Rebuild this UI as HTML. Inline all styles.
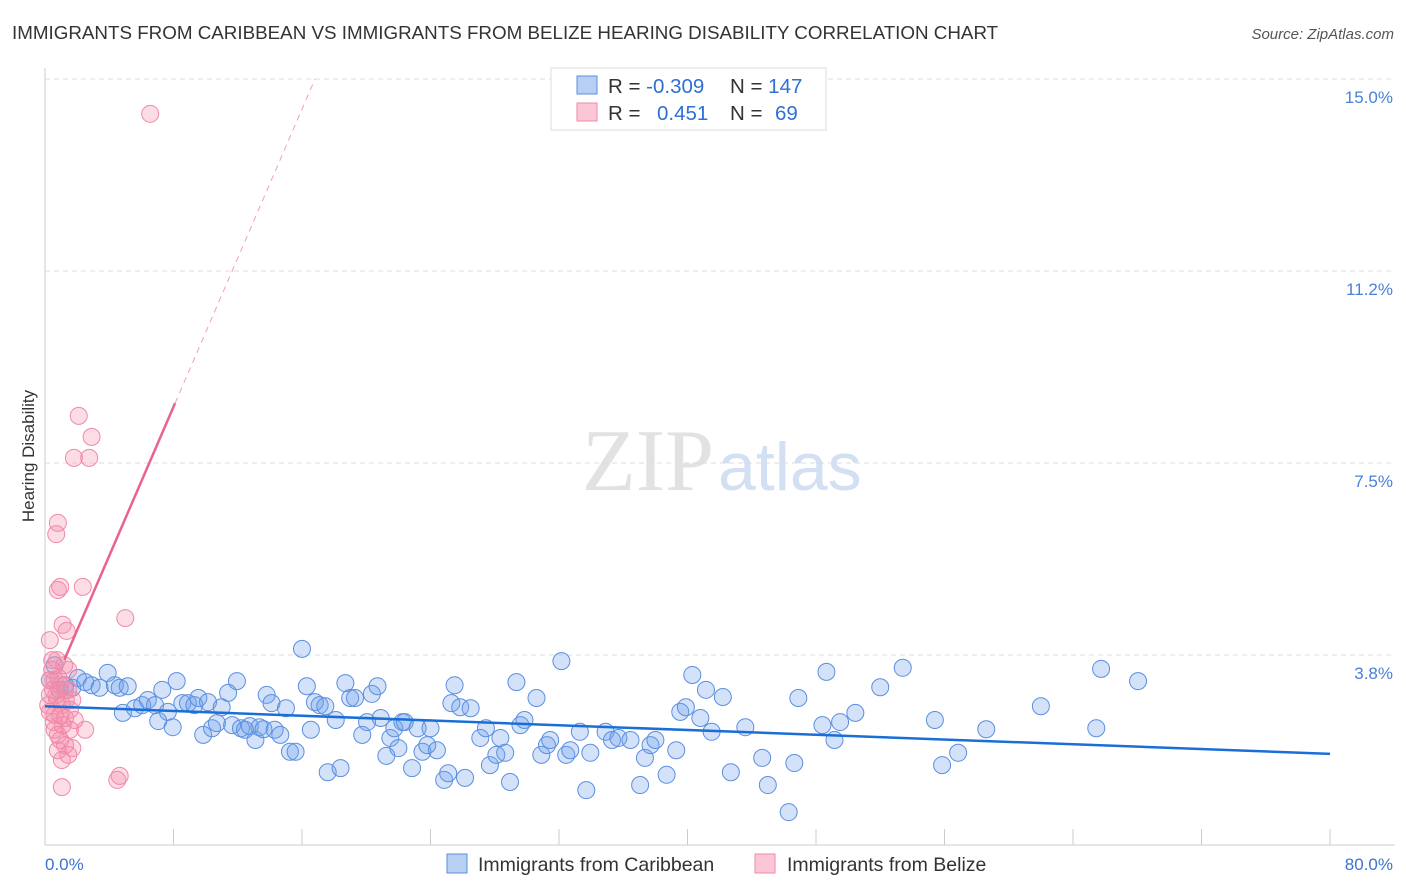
<!DOCTYPE html>
<html><head><meta charset="utf-8"><style>
body{margin:0;background:#fff;font-family:"Liberation Sans",sans-serif;}
svg{display:block}
</style></head><body>
<svg width="1406" height="892" xmlns="http://www.w3.org/2000/svg">
<text x="12" y="39" font-size="18.8" fill="#333">IMMIGRANTS FROM CARIBBEAN VS IMMIGRANTS FROM BELIZE HEARING DISABILITY CORRELATION CHART</text>
<text x="1394" y="39" font-size="15" fill="#555" text-anchor="end" font-style="italic">Source: ZipAtlas.com</text>
<text x="714" y="490" font-size="88" fill="#e2e2e2" text-anchor="end" font-family="Liberation Serif,serif">ZIP</text>
<text x="718" y="490" font-size="68" fill="#d3e0f3">atlas</text>
<g id="grid"></g>
<g id="axes"></g>
<g id="pts"></g>
<g id="trend"></g>
<text transform="translate(34,456) rotate(-90)" font-size="17" fill="#333" text-anchor="middle">Hearing Disability</text>
<text x="45" y="870" font-size="17" fill="#3a74d0">0.0%</text>
<text x="1393" y="870" font-size="17" fill="#3a74d0" text-anchor="end">80.0%</text>
<g>
<rect x="551" y="68" width="275" height="62" fill="#fff" stroke="#ddd"/>
<rect x="577" y="76" width="20" height="18" fill="#b6cff3" stroke="#5b8fe0"/>
<rect x="577" y="103" width="20" height="18" fill="#fbc7d6" stroke="#f08aa8"/>
<text x="608" y="93" font-size="20.5" fill="#333">R = <tspan fill="#2f6fd4">-0.309</tspan></text>
<text x="730" y="93" font-size="20.5" fill="#333">N = <tspan fill="#2f6fd4">147</tspan></text>
<text x="608" y="120" font-size="20.5" fill="#333">R = <tspan fill="#2f6fd4" x="657">0.451</tspan></text>
<text x="730" y="120" font-size="20.5" fill="#333">N = <tspan fill="#2f6fd4" x="775">69</tspan></text>
</g>
<g>
<rect x="447" y="854" width="20" height="19" fill="#b6cff3" stroke="#5b8fe0"/>
<text x="478" y="871" font-size="19.5" fill="#333">Immigrants from Caribbean</text>
<rect x="755" y="854" width="20" height="19" fill="#fbc7d6" stroke="#f08aa8"/>
<text x="787" y="871" font-size="19.5" fill="#333">Immigrants from Belize</text>
</g>
</svg>
<script>
const yTicks=[15,11.25,7.5,3.75];
const yTickLabels=["15.0%","11.2%","7.5%","3.8%"];
const xTicks=[0,8,16,24,32,40,48,56,64,72,80];
const blueX=[0.3,0.6,0.9,1.25,1.7,2.05,2.5,2.9,3.4,3.9,4.35,4.65,4.85,5.15,5.6,6.05,6.4,6.85,7.05,7.3,7.65,7.95,8.2,8.55,8.9,9.3,9.55,9.85,10.15,10.4,10.7,11.0,11.4,11.65,11.95,12.2,12.45,12.75,13.1,13.35,13.6,13.8,14.1,14.3,14.65,15.0,15.25,15.6,16.0,16.3,16.55,16.8,17.1,17.45,17.6,18.1,18.4,18.7,19.0,19.3,19.75,20.05,20.35,20.7,20.9,21.25,21.5,21.75,22.0,22.25,22.4,22.85,23.2,23.5,23.8,24.0,24.4,24.85,25.1,25.3,25.5,25.85,26.15,26.5,27.1,27.45,27.7,28.1,28.35,28.65,28.95,29.35,29.6,29.85,30.6,30.9,31.25,31.45,32.15,32.45,32.7,33.3,33.7,33.95,34.9,35.3,35.7,36.45,37.05,37.35,37.7,38.0,38.7,39.3,39.55,39.9,40.3,40.8,41.15,41.5,42.2,42.7,43.6,44.65,45.0,46.3,46.65,46.9,48.4,48.65,49.15,49.5,50.45,52.0,53.4,55.4,55.85,56.85,58.6,62.0,65.45,65.75,68.05];
const blueY=[3.26,3.55,3.07,3.16,3.11,3.30,3.22,3.16,3.11,3.40,3.16,3.11,2.62,3.14,2.71,2.77,2.87,2.77,2.46,3.07,2.64,2.34,3.24,2.81,2.81,2.77,2.91,2.19,2.83,2.32,2.42,2.73,3.01,2.38,3.24,2.32,2.29,2.36,2.09,2.34,2.30,2.97,2.81,2.29,2.19,2.71,1.86,1.86,3.87,3.14,2.29,2.83,2.77,2.75,1.46,2.48,1.54,3.20,2.91,2.91,2.19,2.44,2.99,3.14,2.52,1.78,2.13,2.32,1.93,2.44,2.44,1.54,2.32,1.86,1.99,2.32,1.89,1.31,1.44,2.81,3.16,2.73,1.35,2.71,2.13,2.32,1.60,1.80,2.13,1.84,1.27,3.22,2.38,2.48,2.91,1.80,1.99,2.09,3.63,1.80,1.89,2.25,1.11,1.84,2.25,2.09,2.13,2.09,1.21,1.74,1.99,2.09,1.41,1.89,2.64,2.73,3.36,2.52,3.07,2.25,2.93,1.46,2.34,1.74,1.21,0.68,1.64,2.91,2.38,3.42,2.09,2.44,2.62,3.12,3.50,2.48,1.60,1.84,2.30,2.75,2.32,3.48,3.24];
const pinkX=[6.55,2.1,2.9,1.8,2.75,0.8,0.7,0.95,2.35,0.8,5.0,1.1,1.35,0.3,0.75,1.45,0.45,0.6,0.95,1.25,0.3,0.75,1.05,1.55,0.3,0.6,1.25,1.85,2.5,0.6,1.55,0.95,1.25,1.7,0.8,1.45,1.05,4.65,4.5,1.05,0.5,0.85,1.3,0.2,0.55,1.1,0.3,0.7,1.45,1.7,0.95,0.45,1.2,0.8];
const pinkY=[14.32,8.42,8.01,7.60,7.60,6.33,6.11,5.08,5.08,5.02,4.47,4.34,4.22,4.04,3.65,3.46,3.46,3.26,3.16,3.07,2.97,2.87,2.77,2.68,2.64,2.58,2.52,2.48,2.29,2.29,2.29,2.09,1.99,1.93,1.89,1.80,1.70,1.39,1.31,1.17,3.07,3.30,2.87,2.77,2.44,2.38,3.26,2.97,3.07,2.87,2.58,3.65,3.55,2.19];
const blueTrend=[2.75,1.82];
const pinkTrend={intercept:2.78,slope:0.727,solidEnd:8.1};
const NS="http://www.w3.org/2000/svg";
const xs=v=>45+v*(1285/80);
const ys=v=>847-v*51.2;
function mk(tag,attrs,parent){const e=document.createElementNS(NS,tag);for(const k in attrs)e.setAttribute(k,attrs[k]);document.getElementById(parent).appendChild(e);return e;}
yTicks.forEach((t,i)=>{
 const l=mk('line',{x1:45,x2:1395,y1:ys(t),y2:ys(t),stroke:'#ddd','stroke-dasharray':'5,4'},'grid');
 
 
 const tx=mk('text',{x:1393,y:ys(t)+24,'font-size':17,fill:'#4a80d8','text-anchor':'end'},'grid');
 tx.textContent=yTickLabels[i];
 
 
});
const ya=mk('line',{x1:45,x2:45,y1:68,y2:845,stroke:'#ccc'},'axes');


const xa=mk('line',{x1:45,x2:1395,y1:845,y2:845,stroke:'#ccc'},'axes');


xTicks.forEach(t=>{
 const l=mk('line',{x1:xs(t),x2:xs(t),y1:829,y2:845,stroke:'#ccc'},'axes');
 
 
});
blueX.forEach((x,i)=>{
 const c=mk('circle',{cx:xs(x),cy:ys(blueY[i]),r:8.5,fill:'rgba(110,160,235,0.3)',stroke:'#5b8fe0','stroke-width':1},'pts');
 
 
});
pinkX.forEach((x,i)=>{
 const c=mk('circle',{cx:xs(x),cy:ys(pinkY[i]),r:8.5,fill:'rgba(245,140,170,0.3)',stroke:'#f08aa8','stroke-width':1},'pts');
 
 
});
const bt=mk('line',{x1:xs(0),y1:ys(blueTrend[0]),x2:xs(80),y2:ys(blueTrend[1]),stroke:'#1a6fd6','stroke-width':2.5},'trend');


const p0=1.2,pe=pinkTrend.solidEnd,pd=(15-pinkTrend.intercept)/pinkTrend.slope;
const pt=mk('line',{x1:xs(p0),y1:ys(pinkTrend.intercept+pinkTrend.slope*p0),x2:xs(pe),y2:ys(pinkTrend.intercept+pinkTrend.slope*pe),stroke:'#e8648f','stroke-width':2.5},'trend');


const pdl=mk('line',{x1:xs(pe),y1:ys(pinkTrend.intercept+pinkTrend.slope*pe),x2:xs(pd),y2:ys(15),stroke:'#f0a0b8','stroke-width':1,'stroke-dasharray':'6,5'},'trend');


</script>
</body></html>
